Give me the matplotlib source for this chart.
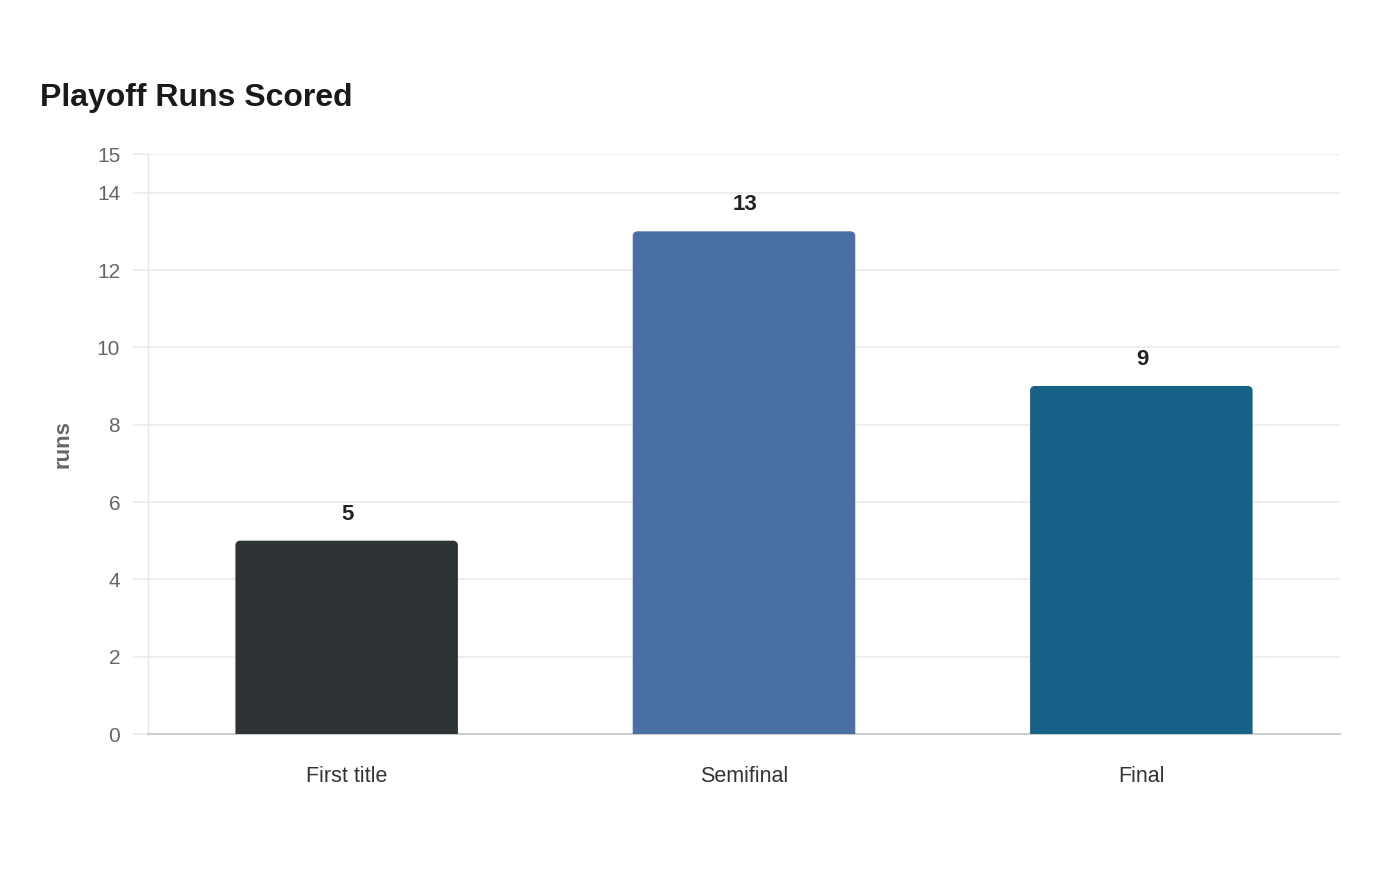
import matplotlib
matplotlib.use("Agg")
import matplotlib.pyplot as plt
from matplotlib.path import Path
from matplotlib.patches import PathPatch

categories = ["First title", "Semifinal", "Final"]
runs = [5, 13, 9]
colors = ["#2e3436", "#4a6fa5", "#176087"]
yticks = [0, 2, 4, 6, 8, 10, 12, 14, 15]

plt.rcParams['font.family'] = ['Liberation Sans', 'DejaVu Sans']

fig = plt.figure(figsize=(14, 8.8), dpi=100)
ax = fig.add_axes([148/1400, 146/880, 1192/1400, 580/880])

x = list(range(len(categories)))
bars = ax.bar(x, runs, width=0.56, color=colors, zorder=3)

ax.set_xlim(-0.5, 2.5)
ax.set_ylim(0, 15)

# rounded top corners only
px_per_x = 1192 / 3.0
px_per_y = 580 / 15.0
r_px = 4.5
rx = r_px / px_per_x
ry = r_px / px_per_y
k = 0.5523
for b, c in zip(bars, colors):
    b.set_visible(False)
    x0, w, h = b.get_x(), b.get_width(), b.get_height()
    x1 = x0 + w
    verts = [
        (x0, 0), (x0, h - ry),
        (x0, h - ry + k * ry), (x0 + rx - k * rx, h), (x0 + rx, h),
        (x1 - rx, h),
        (x1 - rx + k * rx, h), (x1, h - ry + k * ry), (x1, h - ry),
        (x1, 0), (x0, 0),
    ]
    codes = [Path.MOVETO, Path.LINETO,
             Path.CURVE4, Path.CURVE4, Path.CURVE4,
             Path.LINETO,
             Path.CURVE4, Path.CURVE4, Path.CURVE4,
             Path.LINETO, Path.CLOSEPOLY]
    ax.add_patch(PathPatch(Path(verts, codes), fc=c, ec="none", zorder=3))
    ax.annotate(f"{int(h)}", (x0 + w / 2 + 0.003, h), xytext=(0, 11.5), textcoords="offset points",
                ha="center", va="bottom", fontsize=16, fontweight="bold", color="#222222")

ax.set_yticks(yticks)
ax.set_yticklabels([str(t) for t in yticks])
ax.set_xticks(x)
ax.set_xticklabels(categories)

ax.grid(axis="y", color="#ebebeb", linewidth=1.2, zorder=0)
ax.set_axisbelow(True)
for s in ["top", "right"]:
    ax.spines[s].set_visible(False)
ax.spines["left"].set_color("#e6e6e6")
ax.spines["left"].set_linewidth(1.0)
ax.spines["bottom"].set_color("#cccccc")
ax.spines["bottom"].set_linewidth(1.5)

ax.tick_params(axis="y", length=11, color="#ebebeb", width=1.2, labelsize=15,
               labelcolor="#666666", pad=9)
ax.tick_params(axis="x", length=0, labelsize=15.5, labelcolor="#333333", pad=23)

ax.set_ylabel("runs", fontsize=16, fontweight="bold", color="#666666", labelpad=17)

fig.text(40/1400, 1 - 98/880, "Playoff Runs Scored", fontsize=23, fontweight="bold",
         color="#1a1a1a", ha="left", va="center")

fig.savefig("out.png", dpi=100, facecolor="white")
